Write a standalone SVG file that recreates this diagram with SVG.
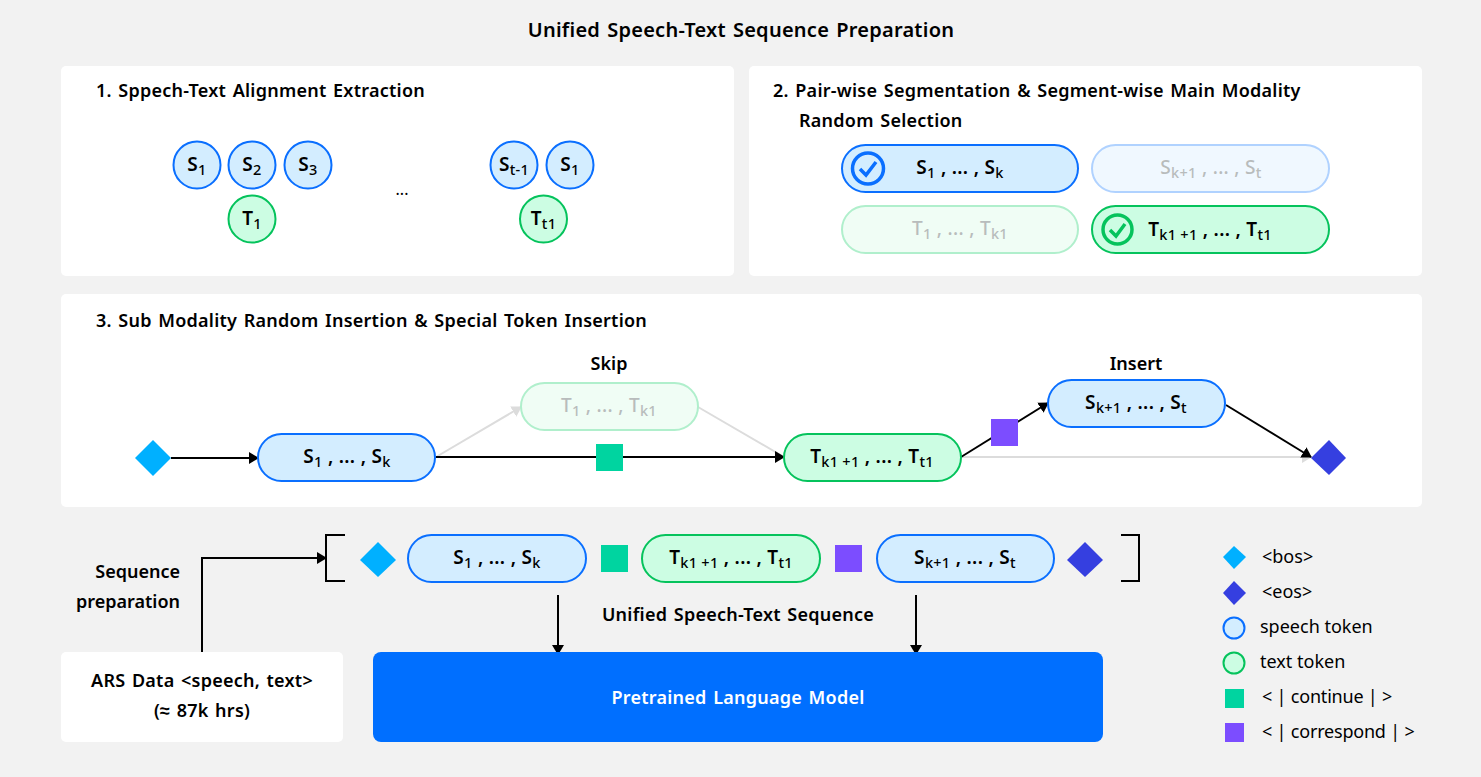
<svg xmlns="http://www.w3.org/2000/svg" width="1481" height="777" viewBox="0 0 1481 777">
<style>
text{font-family:"Noto Sans","Liberation Sans",sans-serif;fill:#000}
.h{font-size:18px;font-weight:600;letter-spacing:.25px;word-spacing:1.6px}
.plain{letter-spacing:0;word-spacing:0}
.c{text-anchor:middle}
.tok{font-size:19px;font-weight:600;text-anchor:middle;letter-spacing:.3px}
.sub{font-size:14.5px;font-weight:500}
.leg{font-size:18px}
.tight{letter-spacing:-.2px}
.s{fill:#d3edff;stroke:#0a6fff;stroke-width:2}
.t{fill:#ccfde3;stroke:#05c35c;stroke-width:2}
.fs{fill:#f0f8ff;stroke:#b0d2ff;stroke-width:2}
.ft{fill:#f0fdf5;stroke:#b0efcc;stroke-width:2}
.fade{fill:#b8bcbc;font-weight:500}
.bos{fill:#00b0ff}.eos{fill:#353fe0}.con{fill:#00d4a0}.cor{fill:#7c4dff}
.k{fill:none;stroke:#000;stroke-width:2}
.g{fill:none;stroke:#dcdcdc;stroke-width:2}
</style>
<defs>
<marker id="a" markerUnits="userSpaceOnUse" markerWidth="12" markerHeight="12" refX="9" refY="6" orient="auto"><path d="M0 0L10 6L0 12z" fill="#000"/></marker>
<marker id="ag" markerUnits="userSpaceOnUse" markerWidth="12" markerHeight="12" refX="9" refY="6" orient="auto"><path d="M0 0L10 6L0 12z" fill="#dcdcdc"/></marker>
</defs>
<rect width="1481" height="777" fill="#f2f2f2"/>
<text class="h c" x="741" y="37" style="font-size:20px">Unified Speech-Text Sequence Preparation</text>
<g id="panels" fill="#fff">
<rect x="61" y="66" width="673" height="210" rx="5"/>
<rect x="749" y="66" width="673" height="210" rx="5"/>
<rect x="61" y="294" width="1361" height="213" rx="5"/>
<rect x="61" y="652" width="282" height="90" rx="5"/>
</g>
<text class="h" x="96" y="97">1. Sppech-Text Alignment Extraction</text>
<text class="h" x="773" y="97">2. Pair-wise Segmentation &amp; Segment-wise Main Modality</text>
<text class="h" x="799" y="127">Random Selection</text>
<text class="h" x="96" y="327">3. Sub Modality Random Insertion &amp; Special Token Insertion</text>

<g id="connectors">
<path class="g" d="M436 457L521 407" marker-end="url(#ag)"/>
<path class="g" d="M698 407L784 457"/>
<path class="g" d="M962 457H1311" marker-end="url(#ag)"/>
<path class="k" d="M171 458H258" marker-end="url(#a)"/>
<path class="k" d="M436 457H784" marker-end="url(#a)"/>
<path class="k" d="M961 457L1048 403" marker-end="url(#a)"/>
<path class="k" d="M1226 405L1311 457" marker-end="url(#a)"/>
<path class="k" d="M202 652V558H326" marker-end="url(#a)"/>
<path class="k" d="M558 595V654" marker-end="url(#a)"/>
<path class="k" d="M916 595V654" marker-end="url(#a)"/>
<path class="k" d="M345 535H326V581H345"/>
<path class="k" d="M1121 535H1139V581H1121"/>
</g>

<g id="n-s1"><circle class="s" cx="197" cy="165" r="23.5"/><text class="tok" x="197" y="171">S<tspan class="sub" dy="4">1</tspan></text></g>
<g id="n-s2"><circle class="s" cx="252" cy="165" r="23.5"/><text class="tok" x="252" y="171">S<tspan class="sub" dy="4">2</tspan></text></g>
<g id="n-s3"><circle class="s" cx="308" cy="165" r="23.5"/><text class="tok" x="308" y="171">S<tspan class="sub" dy="4">3</tspan></text></g>
<g id="n-t1"><circle class="t" cx="252" cy="219" r="23.5"/><text class="tok" x="252" y="225">T<tspan class="sub" dy="4">1</tspan></text></g>
<text x="402" y="195" class="c" style="font-size:16px">...</text>
<g id="n-st1"><circle class="s" cx="514" cy="165" r="23.5"/><text class="tok" x="514" y="171">S<tspan class="sub" dy="4">t-1</tspan></text></g>
<g id="n-s1b"><circle class="s" cx="570" cy="165" r="23.5"/><text class="tok" x="570" y="171">S<tspan class="sub" dy="4">1</tspan></text></g>
<g id="n-tt1"><circle class="t" cx="543.5" cy="219" r="23.5"/><text class="tok" x="543.5" y="225">T<tspan class="sub" dy="4">t1</tspan></text></g>

<g id="n-p1"><rect class="s" x="842" y="145" width="236" height="47" rx="23.5"/>
<circle cx="868" cy="168.5" r="15.5" fill="none" stroke="#0a6fff" stroke-width="3.5"/><path d="M860 169L866 175L876 162" fill="none" stroke="#0a6fff" stroke-width="3.5"/>
<text class="tok" x="960" y="174">S<tspan class="sub" dy="4">1</tspan><tspan dy="-4"> , ... , S</tspan><tspan class="sub" dy="4">k</tspan></text></g>
<g id="n-p2"><rect class="fs" x="1092" y="145" width="237" height="47" rx="23.5"/>
<text class="tok fade" x="1211" y="174">S<tspan class="sub" dy="4">k+1</tspan><tspan dy="-4"> , ... , S</tspan><tspan class="sub" dy="4">t</tspan></text></g>
<g id="n-p3"><rect class="ft" x="842" y="206" width="236" height="47" rx="23.5"/>
<text class="tok fade" x="960" y="235">T<tspan class="sub" dy="4">1</tspan><tspan dy="-4"> , ... , T</tspan><tspan class="sub" dy="4">k1</tspan></text></g>
<g id="n-p4"><rect class="t" x="1092" y="206" width="237" height="47" rx="23.5"/>
<circle cx="1117.5" cy="229.5" r="14.5" fill="none" stroke="#05c35c" stroke-width="3.5"/><path d="M1110 230L1116 236L1125 224" fill="none" stroke="#05c35c" stroke-width="3.5"/>
<text class="tok" x="1210" y="236">T<tspan class="sub" dy="4">k1 +1</tspan><tspan dy="-4"> , ... , T</tspan><tspan class="sub" dy="4">t1</tspan></text></g>

<text class="h c plain" x="609" y="370">Skip</text>
<text class="h c plain" x="1136" y="370">Insert</text>
<g id="n-bos1"><path class="bos" d="M153 440L171 458L153 476L135 458z"/></g>
<g id="n-a1"><rect class="s" x="258" y="434" width="177" height="47" rx="23.5"/><text class="tok" x="347" y="463">S<tspan class="sub" dy="4">1</tspan><tspan dy="-4"> , ... , S</tspan><tspan class="sub" dy="4">k</tspan></text></g>
<g id="n-a2"><rect class="ft" x="521" y="383" width="177" height="47" rx="23.5"/><text class="tok fade" x="609" y="412">T<tspan class="sub" dy="4">1</tspan><tspan dy="-4"> , ... , T</tspan><tspan class="sub" dy="4">k1</tspan></text></g>
<g id="n-con1"><rect class="con" x="596" y="444" width="27" height="27"/></g>
<g id="n-a3"><rect class="t" x="784" y="434" width="177" height="47" rx="23.5"/><text class="tok" x="872" y="463">T<tspan class="sub" dy="4">k1 +1</tspan><tspan dy="-4"> , ... , T</tspan><tspan class="sub" dy="4">t1</tspan></text></g>
<g id="n-cor1"><rect class="cor" x="991" y="419" width="27" height="27"/></g>
<g id="n-a4"><rect class="s" x="1048" y="380" width="177" height="47" rx="23.5"/><text class="tok" x="1136" y="409">S<tspan class="sub" dy="4">k+1</tspan><tspan dy="-4"> , ... , S</tspan><tspan class="sub" dy="4">t</tspan></text></g>
<g id="n-eos1"><path class="eos" d="M1329 440L1346 458L1329 475L1311 458z"/></g>

<text class="h plain" x="180" y="578" style="text-anchor:end">Sequence</text>
<text class="h plain" x="180" y="608" style="text-anchor:end">preparation</text>

<g id="n-bos2"><path class="bos" d="M378 542L396 560L378 577L360 560z"/></g>
<g id="n-b1"><rect class="s" x="408" y="535" width="178" height="47" rx="23.5"/><text class="tok" x="497" y="564">S<tspan class="sub" dy="4">1</tspan><tspan dy="-4"> , ... , S</tspan><tspan class="sub" dy="4">k</tspan></text></g>
<g id="n-con2"><rect class="con" x="601" y="545" width="27" height="27"/></g>
<g id="n-b2"><rect class="t" x="642" y="535" width="178" height="47" rx="23.5"/><text class="tok" x="731" y="564">T<tspan class="sub" dy="4">k1 +1</tspan><tspan dy="-4"> , ... , T</tspan><tspan class="sub" dy="4">t1</tspan></text></g>
<g id="n-cor2"><rect class="cor" x="835" y="545" width="27" height="27"/></g>
<g id="n-b3"><rect class="s" x="877" y="535" width="177" height="47" rx="23.5"/><text class="tok" x="965" y="564">S<tspan class="sub" dy="4">k+1</tspan><tspan dy="-4"> , ... , S</tspan><tspan class="sub" dy="4">t</tspan></text></g>
<g id="n-eos2"><path class="eos" d="M1085 542L1103 560L1085 577L1067 560z"/></g>
<text class="h c" x="738" y="621">Unified Speech-Text Sequence</text>

<g id="n-ars"><text class="h c" x="202" y="687">ARS Data &lt;speech, text&gt;</text><text class="h c" x="202" y="717">(≈ 87k hrs)</text></g>
<g id="n-plm"><rect x="373" y="652" width="730" height="90" rx="8" fill="#006fff"/><text class="h c" x="738" y="704" style="fill:#fff">Pretrained Language Model</text></g>

<g id="legend">
<path class="bos" d="M1234 546L1246 557L1234 569L1223 557z"/><text class="leg" x="1262" y="563">&lt;bos&gt;</text>
<path class="eos" d="M1234 581L1246 593L1234 605L1223 593z"/><text class="leg" x="1262" y="598">&lt;eos&gt;</text>
<circle class="s" cx="1234" cy="628" r="10.5"/><text class="leg" x="1260" y="633">speech token</text>
<circle class="t" cx="1234" cy="663" r="10.5"/><text class="leg" x="1260" y="668">text token</text>
<rect class="con" x="1225" y="689" width="19" height="19"/><text class="leg tight" x="1262" y="703">&lt; | continue | &gt;</text>
<rect class="cor" x="1225" y="723" width="19" height="19"/><text class="leg tight" x="1262" y="738">&lt; | correspond | &gt;</text>
</g>
</svg>
